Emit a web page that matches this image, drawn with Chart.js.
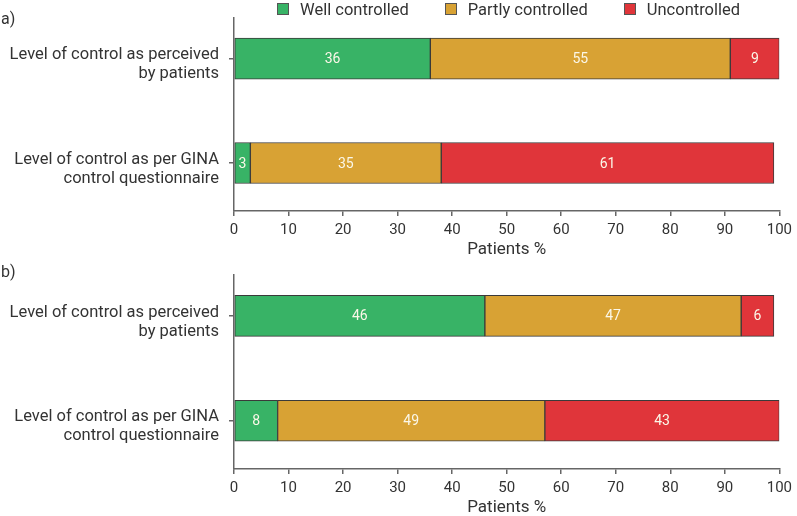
<!DOCTYPE html>
<html>
<head>
<meta charset="utf-8">
<script src="https://cdn.jsdelivr.net/npm/chart.js@4.4.1/dist/chart.umd.min.js"></script>
<style>
    html, body { margin: 0; padding: 0; background: #fff; }
    #wrap { position: relative; width: 797px; height: 516px; font-family: Roboto, sans-serif; color: #333; }
    .box { position: absolute; left: 0; width: 797px; height: 258px; }
    #boxA { top: 0; }
    #boxB { top: 258px; }
    .panel { position: absolute; left: 1px; font-size: 16px; line-height: 18px; }
    #legend { position: absolute; top: 0; left: 277px; height: 18px; display: flex; align-items: center; font-size: 16.5px; }
    .item { display: flex; align-items: center; margin-right: 36px; }
    .swatch { width: 10px; height: 10px; border: 1px solid #555; margin-right: 11px; }
</style>
</head>
<body>
<div id="wrap">
    <div class="box" id="boxA"><canvas id="chartA"></canvas></div>
    <div class="box" id="boxB"><canvas id="chartB"></canvas></div>
    <div class="panel" style="top:10px">a)</div>
    <div class="panel" style="top:263px">b)</div>
    <div id="legend"></div>
</div>
<script>
const categories = [
    ["Level of control as perceived", "by patients"],
    ["Level of control as per GINA", "control questionnaire"]
];
const seriesNames = ["Well controlled", "Partly controlled", "Uncontrolled"];
const seriesColors = ["#38b366", "#d8a234", "#e0353a"];

// panel a)
const aWell = [36, 3];
const aPartly = [55, 35];
const aUncontrolled = [9, 61];

// panel b)
const bWell = [46, 8];
const bPartly = [47, 49];
const bUncontrolled = [6, 43];

const xTicks = [0, 10, 20, 30, 40, 50, 60, 70, 80, 90, 100];

const axisColor = "#666";
const textColor = "#333";

// numbers inside the bar segments
const segmentLabels = {
    id: "segmentLabels",
    afterDatasetsDraw(chart) {
        const ctx = chart.ctx;
        ctx.save();
        ctx.font = "14px Roboto";
        ctx.fillStyle = "#fbf7e8";
        ctx.textAlign = "center";
        ctx.textBaseline = "middle";
        chart.data.datasets.forEach((ds, di) => {
            chart.getDatasetMeta(di).data.forEach((bar, i) => {
                const p = bar.getProps(["x", "y", "base"], true);
                ctx.fillText(String(ds.data[i].x), (p.x + p.base) / 2, p.y + 1);
            });
        });
        ctx.restore();
    }
};

function makeDatasets(series) {
    return series.map((values, k) => ({
        label: seriesNames[k],
        data: values.map((v, i) => ({ x: v, y: i })),
        backgroundColor: seriesColors[k],
        borderColor: "#3a3a3a",
        borderWidth: 1,
        borderSkipped: false,
        barThickness: 41
    }));
}

function makeOptions(topPad) {
    return {
        indexAxis: "y",
        responsive: true,
        maintainAspectRatio: false,
        animation: false,
        layout: { padding: { top: topPad, right: 15, left: 0, bottom: 0 } },
        plugins: {
            legend: { display: false },
            tooltip: { enabled: false }
        },
        scales: {
            x: {
                type: "linear",
                stacked: true,
                min: 0,
                max: 100,
                afterFit: s => { s.height = 47; },
                afterBuildTicks: s => { s.ticks = xTicks.map(v => ({ value: v })); },
                grid: { drawOnChartArea: false, drawTicks: true, tickLength: 5, color: axisColor, lineWidth: 1.5 },
                border: { color: axisColor, width: 1.5 },
                ticks: { padding: 5, color: textColor, font: { family: "Roboto", size: 15 } },
                title: {
                    display: true,
                    text: "Patients %",
                    color: textColor,
                    font: { family: "Roboto", size: 17, lineHeight: 1 },
                    padding: 0
                }
            },
            y: {
                type: "linear",
                stacked: true,
                reverse: true,
                offset: false,
                min: -0.39,
                max: 1.46,
                afterFit: s => {
                    s.width = 234;
                    s.paddingTop = 0;
                    s.paddingBottom = 0;
                },
                afterBuildTicks: s => { s.ticks = [{ value: 0 }, { value: 1 }]; },
                grid: { offset: false, drawOnChartArea: false, drawTicks: true, tickLength: 5, color: axisColor, lineWidth: 1.5 },
                border: { color: axisColor, width: 1.5 },
                ticks: {
                    callback: v => categories[v],
                    padding: 10,
                    labelOffset: 6,
                    color: textColor,
                    font: { family: "Roboto", size: 16.5, lineHeight: 1.15 }
                }
            }
        }
    };
}

const chartA = new Chart(document.getElementById("chartA"), {
    type: "bar",
    data: { datasets: makeDatasets([aWell, aPartly, aUncontrolled]) },
    options: makeOptions(18),
    plugins: [segmentLabels]
});

new Chart(document.getElementById("chartB"), {
    type: "bar",
    data: { datasets: makeDatasets([bWell, bPartly, bUncontrolled]) },
    options: makeOptions(17),
    plugins: [segmentLabels]
});

// legend built from the datasets of chart a)
const legend = document.getElementById("legend");
chartA.data.datasets.forEach(ds => {
    const item = document.createElement("div");
    item.className = "item";
    const sw = document.createElement("span");
    sw.className = "swatch";
    sw.style.background = ds.backgroundColor;
    item.appendChild(sw);
    item.appendChild(document.createTextNode(ds.label));
    legend.appendChild(item);
});
</script>
</body>
</html>
